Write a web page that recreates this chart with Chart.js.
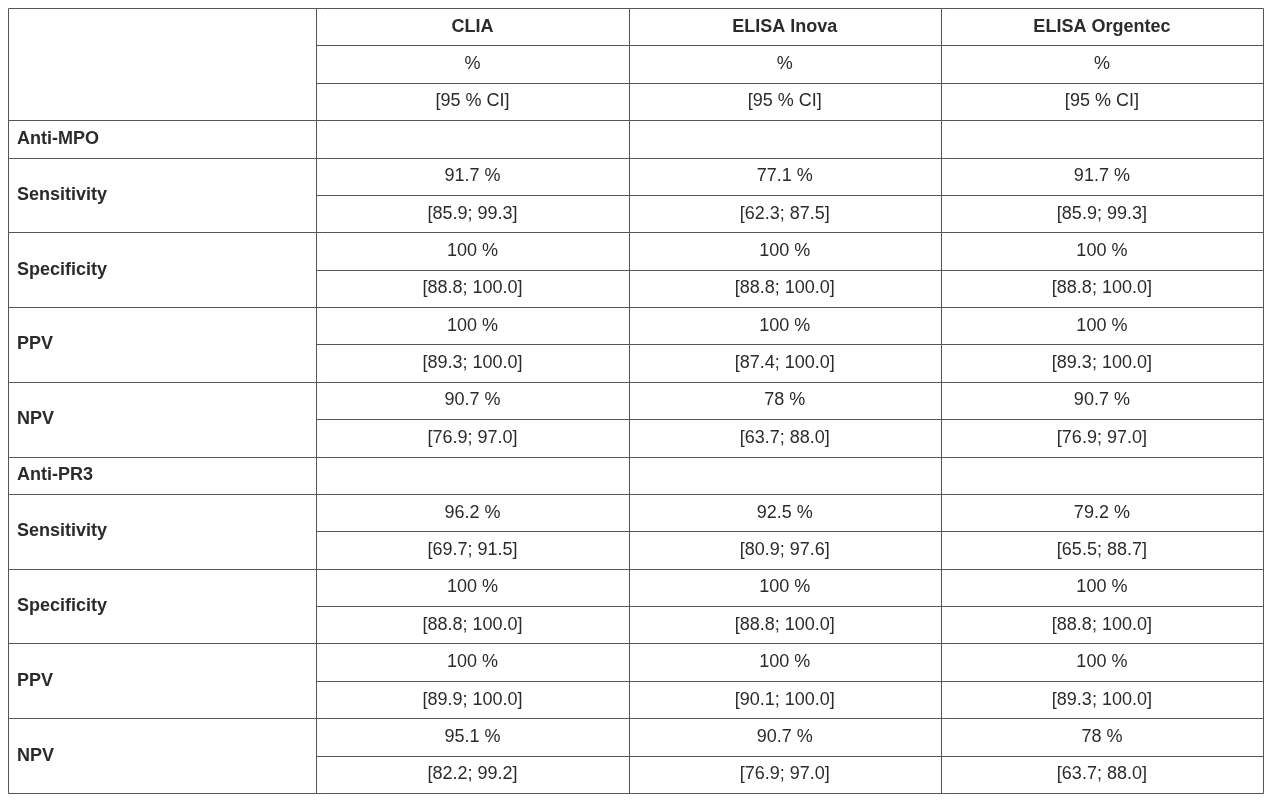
<!DOCTYPE html>
<html><head><meta charset="utf-8">
<script src="https://cdn.jsdelivr.net/npm/chart.js@4"></script>
<style>html,body{margin:0;padding:0;background:#fff}#c{display:block}</style>
</head><body>
<div style="width:1269px;height:800px"><canvas id="c"></canvas></div>
<script>
const columns = ['CLIA', 'ELISA Inova', 'ELISA Orgentec'];
const subHeader1 = ['%', '%', '%'];
const subHeader2 = ['[95 % CI]', '[95 % CI]', '[95 % CI]'];
const groups = ['Anti-MPO', 'Anti-PR3'];
const measures = ['Sensitivity', 'Specificity', 'PPV', 'NPV'];
const mpoValues = [
  ['91.7 %', '77.1 %', '91.7 %'],
  ['100 %', '100 %', '100 %'],
  ['100 %', '100 %', '100 %'],
  ['90.7 %', '78 %', '90.7 %']
];
const mpoCI = [
  ['[85.9; 99.3]', '[62.3; 87.5]', '[85.9; 99.3]'],
  ['[88.8; 100.0]', '[88.8; 100.0]', '[88.8; 100.0]'],
  ['[89.3; 100.0]', '[87.4; 100.0]', '[89.3; 100.0]'],
  ['[76.9; 97.0]', '[63.7; 88.0]', '[76.9; 97.0]']
];
const pr3Values = [
  ['96.2 %', '92.5 %', '79.2 %'],
  ['100 %', '100 %', '100 %'],
  ['100 %', '100 %', '100 %'],
  ['95.1 %', '90.7 %', '78 %']
];
const pr3CI = [
  ['[69.7; 91.5]', '[80.9; 97.6]', '[65.5; 88.7]'],
  ['[88.8; 100.0]', '[88.8; 100.0]', '[88.8; 100.0]'],
  ['[89.9; 100.0]', '[90.1; 100.0]', '[89.3; 100.0]'],
  ['[82.2; 99.2]', '[76.9; 97.0]', '[63.7; 88.0]']
];
const colEdges = [0, 0.983, 1.978, 2.973, 4];

// Build row list
const rows = [];
rows.push({type:'head', cells: columns});
rows.push({type:'sub', cells: subHeader1});
rows.push({type:'sub2', cells: subHeader2});
const groupData = [[mpoValues, mpoCI], [pr3Values, pr3CI]];
groups.forEach((g, gi) => {
  rows.push({type:'group', label: g});
  measures.forEach((m, mi) => {
    rows.push({type:'val', label: m, cells: groupData[gi][0][mi]});
    rows.push({type:'ci', cells: groupData[gi][1][mi]});
  });
});
const nRows = rows.length;

const tablePlugin = {
  id: 'table',
  afterDraw(chart) {
    const ctx = chart.ctx, x = chart.scales.x, y = chart.scales.y;
    const X = v => x.getPixelForValue(v), Y = v => y.getPixelForValue(v);
    ctx.save();
    ctx.strokeStyle = '#555'; ctx.lineWidth = 1;
    const line = (x1, y1, x2, y2) => { ctx.beginPath(); ctx.moveTo(Math.round(x1)+0.5, Math.round(y1)+0.5); ctx.lineTo(Math.round(x2)+0.5, Math.round(y2)+0.5); ctx.stroke(); };
    // verticals
    colEdges.forEach(e => line(X(e), Y(0), X(e), Y(nRows)));
    line(X(0), Y(0), X(4), Y(0));
    // horizontals
    for (let r = 1; r <= nRows; r++) {
      const prev = rows[r-1];
      const firstColLine = r >= 3 && prev.type !== 'val' && !(prev.type==='sub'||prev.type==='head');
      line(X(firstColLine ? 0 : colEdges[1]), Y(r), X(4), Y(r));
    }
    ctx.fillStyle = '#2b2b2b'; ctx.textBaseline = 'middle';
    rows.forEach((row, r) => {
      const cy = Y(r + 0.5);
      if (row.cells) {
        ctx.font = (row.type==='head' ? 'bold ' : '') + '18px "Liberation Sans", Arial, sans-serif';
        ctx.textAlign = 'center';
        row.cells.forEach((t, i) => ctx.fillText(t, (X(colEdges[i+1]) + X(colEdges[i+2]))/2, cy));
      }
      if (row.label) {
        ctx.font = 'bold 18px "Liberation Sans", Arial, sans-serif';
        ctx.textAlign = 'left';
        const ly = row.type === 'val' ? Y(r + 1) : cy;
        ctx.fillText(row.label, X(0) + 9, ly);
      }
    });
    ctx.restore();
  }
};

new Chart(document.getElementById('c'), {
  type: 'scatter',
  data: { datasets: [{ data: [], pointRadius: 0 }] },
  options: {
    responsive: true, maintainAspectRatio: false, animation: false,
    layout: { padding: { left: 8, right: 6, top: 8, bottom: 7 } },
    plugins: { legend: { display: false }, tooltip: { enabled: false } },
    scales: {
      x: { type: 'linear', min: 0, max: 4, display: false },
      y: { type: 'linear', min: 0, max: nRows, reverse: true, display: false }
    }
  },
  plugins: [tablePlugin]
});
</script>
</body></html>
